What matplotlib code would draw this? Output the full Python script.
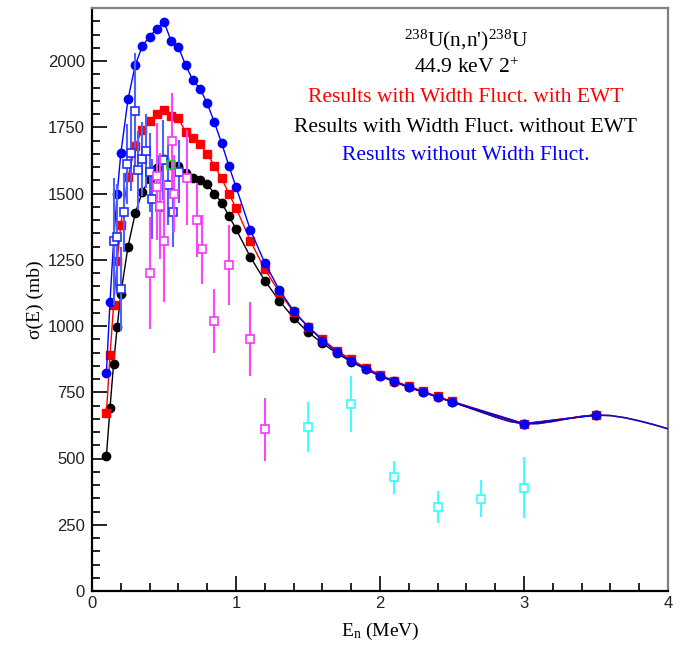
import matplotlib
matplotlib.use("Agg")
import matplotlib.pyplot as plt
from matplotlib.ticker import MultipleLocator

plt.rcParams['mathtext.fontset'] = 'custom'
plt.rcParams['mathtext.rm'] = 'Liberation Serif'
plt.rcParams['mathtext.it'] = 'Liberation Serif:italic'

# Calculated energies (MeV)
E_calc = [0.1, 0.125, 0.15, 0.175, 0.2, 0.25, 0.3, 0.35, 0.4, 0.45, 0.5, 0.55, 0.6, 0.65,
          0.7, 0.75, 0.8, 0.85, 0.9, 0.95, 1.0, 1.1, 1.2, 1.3, 1.4, 1.5, 1.6, 1.7, 1.8,
          1.9, 2.0, 2.1, 2.2, 2.3, 2.4, 2.5, 3.0, 3.5]

red_wf_ewt = [670, 890, 1079, 1244, 1383, 1561, 1681, 1740, 1775, 1800, 1816, 1794, 1784,
              1732, 1711, 1687, 1649, 1605, 1558, 1500, 1446, 1321, 1214, 1129, 1052, 998,
              950, 907, 874, 843, 816, 793, 772, 754, 734, 716, 632, 665]

black_wf = [509, 690, 858, 997, 1121, 1299, 1425, 1507, 1556, 1596, 1631, 1607, 1605, 1577,
            1558, 1550, 1535, 1500, 1466, 1416, 1366, 1260, 1171, 1096, 1030, 977, 935,
            897, 865, 837, 811, 789, 768, 750, 731, 713, 630, 664]

blue_nowf = [824, 1091, 1321, 1500, 1651, 1855, 1984, 2057, 2092, 2122, 2147, 2075, 2052,
             1985, 1928, 1896, 1840, 1768, 1691, 1605, 1525, 1362, 1238, 1137, 1057, 998,
             945, 902, 868, 839, 812, 791, 770, 752, 732, 714, 631, 664]

# Smooth tail of the calculated curves
E_tail = [2.5, 2.6, 2.7, 2.8, 2.9, 3.0, 3.1, 3.2, 3.3, 3.4, 3.5, 3.6, 3.7, 3.8, 3.9, 4.0]
sig_tail = [714, 695, 676, 657, 640, 631, 632, 640, 650, 659, 664, 662, 654, 642, 628, 612]

# Experimental data sets
E_expA = [0.15, 0.176, 0.2, 0.222, 0.245, 0.27, 0.30, 0.32, 0.347, 0.372, 0.40, 0.42,
          0.475, 0.495, 0.528, 0.565, 0.606]
sig_expA = [1320, 1334, 1140, 1429, 1611, 1651, 1811, 1587, 1630, 1660, 1580, 1479,
            1450, 1626, 1532, 1429, 1583]
err_expA = [240, 200, 160, 150, 150, 140, 220, 150, 140, 140, 150, 150, 150, 150, 150,
            130, 120]

E_expB = [0.40, 0.45, 0.45, 0.47, 0.50, 0.553, 0.567, 0.66, 0.73, 0.766, 0.85, 0.95, 1.1, 1.2]
sig_expB = [1200, 1567, 1524, 1453, 1320, 1700, 1500, 1560, 1400, 1290, 1020, 1230, 950, 610]
err_expB = [210, 200, 200, 200, 230, 180, 145, 180, 140, 130, 120, 150, 140, 118]

E_expC = [1.5, 1.8, 2.1, 2.4, 2.7, 3.0]
sig_expC = [619, 706, 429, 316, 348, 389]
err_expC = [93, 106, 63, 61, 70, 115]

E_expD = [0.55]
sig_expD = [1607]

fig = plt.figure(figsize=(6.87, 6.45), dpi=100)
ax = fig.add_axes([92/687, 1-591/645, (668-92)/687, (591-8)/645])

ax.plot(E_tail, sig_tail, color='red', lw=1.0, zorder=2)
ax.plot(E_tail, sig_tail, color='#1010c0', lw=1.2, zorder=3)

ax.plot(E_calc, black_wf, color='black', lw=1.0, marker='o', ms=6, mec='black', mfc='black', zorder=3)
ax.plot(E_calc, red_wf_ewt, color='red', lw=1.0, marker='s', ms=6, mec='red', mfc='red', zorder=4)
ax.plot(E_calc, blue_nowf, color='blue', lw=1.0, marker='o', ms=6, mec='blue', mfc='blue', zorder=5)

ax.errorbar(E_expA, sig_expA, yerr=err_expA, fmt='s', ms=6, mfc='white', mec='#2030ff',
            mew=1.2, ecolor='#5060ff', elinewidth=1.5, capsize=0, zorder=6)
ax.errorbar(E_expB, sig_expB, yerr=err_expB, fmt='s', ms=6, mfc='white', mec='#ff33ff',
            mew=1.2, ecolor='#ff44ff', elinewidth=1.5, capsize=0, zorder=7)
ax.errorbar(E_expC, sig_expC, yerr=err_expC, fmt='s', ms=6, mfc='white', mec='#33ffff',
            mew=1.2, ecolor='#44ffff', elinewidth=1.5, capsize=0, zorder=7)
ax.plot(E_expD, sig_expD, 's', ms=6, mfc='none', mec='#22cc22', mew=1.2, zorder=8)

ax.set_xlim(0, 4)
ax.set_ylim(0, 2200)
ax.xaxis.set_major_locator(MultipleLocator(1))
ax.xaxis.set_minor_locator(MultipleLocator(0.2))
ax.yaxis.set_major_locator(MultipleLocator(250))
ax.yaxis.set_minor_locator(MultipleLocator(50))
ax.tick_params(which='both', direction='in', top=False, right=False, width=1.2)
ax.tick_params(which='major', length=11)
ax.tick_params(which='minor', length=6)
ax.tick_params(axis='y', pad=5)
for lab in ax.get_xticklabels() + ax.get_yticklabels():
    lab.set_fontfamily('Liberation Sans')
    lab.set_fontsize(12)
    lab.set_color('#222222')

for s in ['left', 'bottom']:
    ax.spines[s].set_color('black')
    ax.spines[s].set_linewidth(1.6)
for s in ['top', 'right']:
    ax.spines[s].set_color('#808080')
    ax.spines[s].set_linewidth(1.6)

ax.set_xlabel(r"E$_{\mathrm{n}}$ (MeV)", family='Liberation Serif', fontsize=14, labelpad=7)
ax.set_ylabel("σ(E) (mb)", family='Liberation Serif', fontsize=14, labelpad=3)

tx = (466-92)/576
fs = 15.5
ax.text(tx, 1-(40-8)/583, r"$^{238}$U(n,n')$^{238}$U", transform=ax.transAxes,
        ha='center', va='center', family='Liberation Serif', fontsize=fs)
ax.text(tx, 1-(68-8)/583, r"44.9 keV 2$^{+}$", transform=ax.transAxes,
        ha='center', va='center', family='Liberation Serif', fontsize=fs)
ax.text(tx, 1-(98-8)/583, "Results with Width Fluct. with EWT", transform=ax.transAxes,
        ha='center', va='center', family='Liberation Serif', fontsize=fs, color='red')
ax.text(tx, 1-(127-8)/583, "Results with Width Fluct. without EWT", transform=ax.transAxes,
        ha='center', va='center', family='Liberation Serif', fontsize=fs, color='black')
ax.text(tx, 1-(156-8)/583, "Results without Width Fluct.", transform=ax.transAxes,
        ha='center', va='center', family='Liberation Serif', fontsize=fs, color='blue')

fig.savefig("out.png", dpi=100)
